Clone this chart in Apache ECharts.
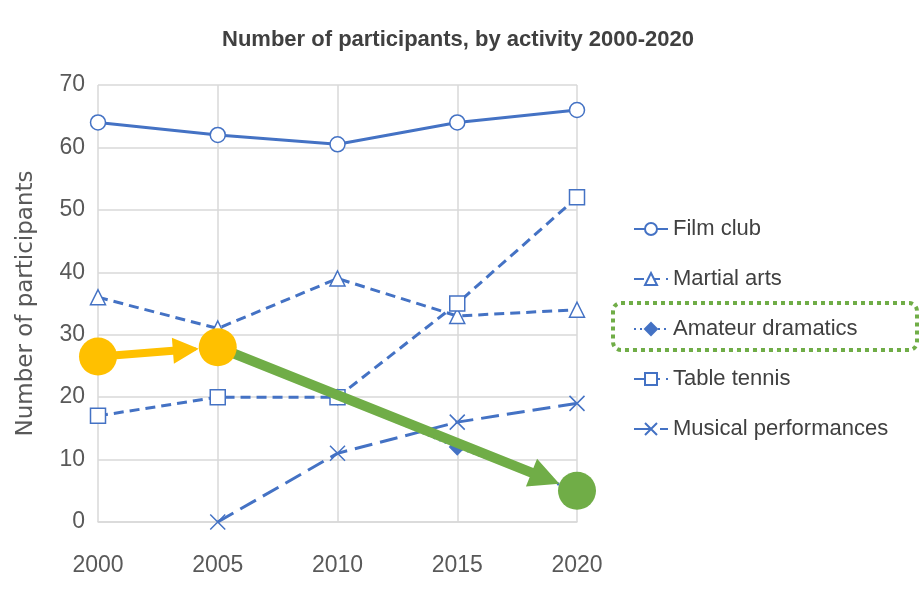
<!DOCTYPE html>
<html lang="en">
<head>
    <meta charset="UTF-8">
    <title>Participants by activity</title>
    <script src="https://cdn.jsdelivr.net/npm/echarts@6/dist/echarts.min.js"></script>
    <style type="text/css">
        html, body { margin: 0; height: 100%; background: #fff; }
        #chart { width: 922px; height: 608px; }
    </style>
</head>
<body>
    <div id="chart"></div>
    <script type="text/javascript">
        // data
        var years = ['2000', '2005', '2010', '2015', '2020'];
        var filmClub = [64, 62, 60.5, 64, 66];
        var martialArts = [36, 31, 39, 33, 34];
        var amateurDramatics = [26.5, 28, 20, 12, 5];
        var tableTennis = [17, 20, 20, 35, 52];
        var musicalPerformances = [null, 0, 11, 16, 19];

        // highlight markers drawn over the chart
        var orangeDots = [[0, 26.5], [1, 28]];
        var greenDots = [[4, 5]];

        var blue = '#4472C4';
        var xMark = 'path://M0,0L10,10M10,0L0,10';

        var chart = echarts.init(document.getElementById('chart'));

        function lineSeries(name, data, symbol, dash, filled) {
            return {
                name: name,
                type: 'line',
                data: data,
                symbol: symbol,
                symbolSize: 15,
                showSymbol: true,
                z: 3,
                lineStyle: { color: blue, width: 3, type: dash },
                itemStyle: {
                    color: filled ? blue : '#fff',
                    borderColor: blue,
                    borderWidth: 1.5
                }
            };
        }

        var option = {
            animation: false,
            backgroundColor: '#fff',
            title: {
                text: 'Number of participants, by activity 2000-2020',
                left: 453,
                textAlign: 'center',
                top: 24,
                textStyle: {
                    fontFamily: 'Liberation Sans',
                    fontSize: 22,
                    fontWeight: 'bold',
                    color: '#404040'
                }
            },
            grid: { left: 98, right: 345, top: 85, bottom: 86, containLabel: false },
            legend: {
                data: ['Film club', 'Martial arts', 'Amateur dramatics', 'Table tennis', 'Musical performances'],
                orient: 'vertical',
                left: 628,
                top: 213,
                itemWidth: 34,
                itemHeight: 15,
                itemGap: 28,
                textStyle: { fontFamily: 'Liberation Sans', fontSize: 22, color: '#404040' }
            },
            xAxis: {
                type: 'category',
                data: years,
                boundaryGap: false,
                axisLine: { lineStyle: { color: '#D9D9D9', width: 1.5 } },
                axisTick: { show: false },
                axisLabel: { fontFamily: 'Liberation Sans', fontSize: 23, color: '#595959', margin: 32 },
                splitLine: { show: true, lineStyle: { color: '#D9D9D9', width: 1.5 } }
            },
            yAxis: {
                type: 'value',
                min: 0,
                max: 70,
                interval: 10,
                name: 'Number of participants',
                nameLocation: 'middle',
                nameGap: 60,
                nameTextStyle: { fontFamily: 'DejaVu Sans', fontSize: 23, color: '#595959' },
                axisLine: { show: false },
                axisTick: { show: false },
                axisLabel: { fontFamily: 'Liberation Sans', fontSize: 23, color: '#595959', margin: 13 },
                splitLine: { lineStyle: { color: '#D9D9D9', width: 1.5 } }
            },
            series: [
                lineSeries('Film club', filmClub, 'circle', 'solid', false),
                lineSeries('Martial arts', martialArts, 'triangle', [10, 6], false),
                lineSeries('Amateur dramatics', amateurDramatics, 'diamond', [2, 4], true),
                lineSeries('Table tennis', tableTennis, 'rect', [10, 6], false),
                lineSeries('Musical performances', musicalPerformances, xMark, [18, 8], false),
                {
                    name: 'orange', type: 'scatter', data: orangeDots, symbolSize: 38, z: 20,
                    itemStyle: { color: '#FFC000', opacity: 1 }
                },
                {
                    name: 'green', type: 'scatter', data: greenDots, symbolSize: 38, z: 20,
                    itemStyle: { color: '#70AD47', opacity: 1 }
                }
            ]
        };
        chart.setOption(option);

        // arrow polygon from a to tip b
        function arrow(a, b, w, hl, hw, color) {
            var dx = b[0] - a[0], dy = b[1] - a[1];
            var len = Math.sqrt(dx * dx + dy * dy);
            var ux = dx / len, uy = dy / len;
            var nx = -uy, ny = ux;
            var c = [b[0] - ux * hl, b[1] - uy * hl];
            var pts = [
                [a[0] + nx * w / 2, a[1] + ny * w / 2],
                [c[0] + nx * w / 2, c[1] + ny * w / 2],
                [c[0] + nx * hw / 2, c[1] + ny * hw / 2],
                b,
                [c[0] - nx * hw / 2, c[1] - ny * hw / 2],
                [c[0] - nx * w / 2, c[1] - ny * w / 2],
                [a[0] - nx * w / 2, a[1] - ny * w / 2]
            ];
            return { type: 'polygon', z: 10, shape: { points: pts }, style: { fill: color } };
        }

        function edge(from, to, r) {
            var dx = to[0] - from[0], dy = to[1] - from[1];
            var len = Math.sqrt(dx * dx + dy * dy);
            return [from[0] + dx / len * r, from[1] + dy / len * r];
        }

        var o1 = chart.convertToPixel({ gridIndex: 0 }, orangeDots[0]);
        var o2 = chart.convertToPixel({ gridIndex: 0 }, orangeDots[1]);
        var g1 = chart.convertToPixel({ gridIndex: 0 }, greenDots[0]);

        chart.setOption({
            graphic: [
                arrow(edge(o1, o2, 15), edge(o2, o1, 19), 8, 26, 26, '#FFC000'),
                arrow(o2, edge(g1, o2, 19), 10, 30, 30, '#70AD47'),
                {
                    type: 'rect', z: 10,
                    shape: { x: 613, y: 303, width: 304, height: 47, r: 8 },
                    style: { fill: 'none', stroke: '#70AD47', lineWidth: 4, lineDash: [4, 4] }
                }
            ]
        });
    </script>
</body>
</html>
